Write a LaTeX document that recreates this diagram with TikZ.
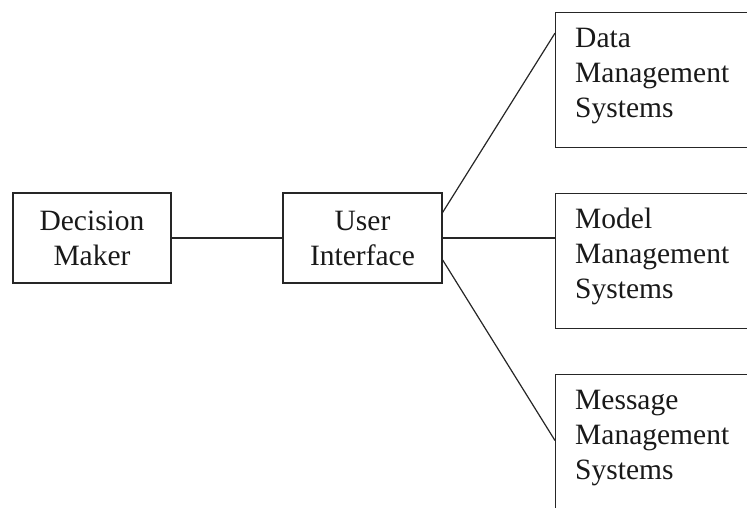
\documentclass[tikz,border=0pt]{standalone}
\usepackage{fontspec}
\setmainfont{Liberation Serif}
\usetikzlibrary{calc}
\begin{document}
\begin{tikzpicture}[x=1pt,y=-1pt,
  box/.style={draw=black!85, line width=1.2pt, rectangle, inner sep=0pt},
  label/.style={font=\fontsize{29.5}{35}\selectfont, text=black!90, inner sep=0pt, align=left},
  link/.style={draw=black!85, line width=1.2pt}]
  \useasboundingbox (0,0) rectangle (747,507);
  \clip (0,0) rectangle (747,507);
  % left-hand boxes
  \node[box, minimum width=158pt, minimum height=90pt, align=center,
        font=\fontsize{29.5}{35}\selectfont, text=black!90] (dm) at (92,238) {Decision\\Maker};
  \node[box, minimum width=159pt, minimum height=90pt, align=center,
        font=\fontsize{29.5}{35}\selectfont, text=black!90] (ui) at (362.5,238) {User\\Interface};
  % subsystem boxes (running off the right edge)
  \node[box, anchor=north west, minimum width=260pt, minimum height=135pt] (data) at (555,12) {};
  \node[box, anchor=north west, minimum width=260pt, minimum height=135pt] (model) at (555,193) {};
  \node[box, anchor=north west, minimum width=260pt, minimum height=150pt] (msg) at (555,374) {};
  % subsystem labels
  \node[label, anchor=north west] (datat) at ([xshift=20pt,yshift=-16pt]data.north west) {Data\\Management\\Systems};
  \node[label, anchor=north west] (modelt) at ([xshift=20pt,yshift=-15pt]model.north west) {Model\\Management\\Systems};
  \node[label, anchor=north west] (msgt) at ([xshift=20pt,yshift=-16pt]msg.north west) {Message\\Management\\Systems};
  % connectors
  \draw[link] (dm.east) -- (ui.west);
  \draw[link] ($(ui.north east)!0.22!(ui.south east)$) -- ($(data.north west)!0.155!(data.south west)$);
  \draw[link] (ui.east) -- (ui.east -| model.west);
  \draw[link] ($(ui.north east)!0.74!(ui.south east)$) -- ($(msg.north west)!0.44!(msg.south west)$);
\end{tikzpicture}
\end{document}
